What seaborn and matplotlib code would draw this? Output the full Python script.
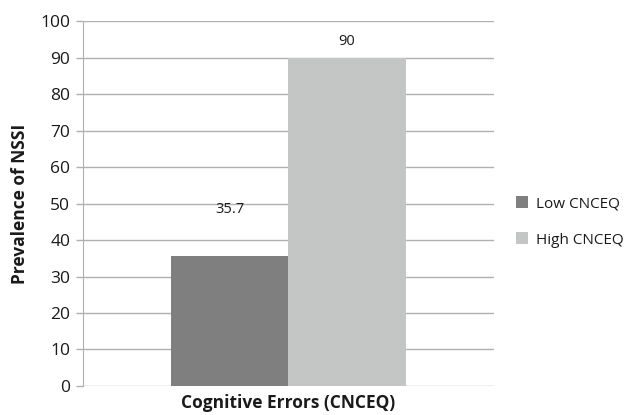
import pandas as pd
import matplotlib.pyplot as plt
import seaborn as sns

groups = ["Low CNCEQ", "High CNCEQ"]
prevalence = [35.7, 90]
category = ["Cognitive Errors (CNCEQ)", "Cognitive Errors (CNCEQ)"]
colors = ["#7f7f7f", "#c4c5c5"]

df = pd.DataFrame({"x": category, "group": groups, "value": prevalence})

sns.set_style("white")
plt.rcParams["font.family"] = ["Open Sans", "DejaVu Sans"]
plt.rcParams["text.color"] = "#1a1a1a"
plt.rcParams["ytick.color"] = "#1a1a1a"

fig = plt.figure(figsize=(6.27, 4.15), dpi=100)
ax = fig.add_axes([0.132, 0.070, 0.656, 0.879])

sns.barplot(data=df, x="x", y="value", hue="group", palette=colors,
            width=0.57, saturation=1, linewidth=0, ax=ax, legend=True)

ax.set_ylim(0, 100)
ax.set_xlim(-0.5, 0.5)
ax.set_yticks(range(0, 101, 10))
ax.tick_params(axis="y", labelsize=12.5, length=5, color="#b0b0b0", labelcolor="#1a1a1a",
               width=1, pad=4, left=True)
ax.tick_params(axis="x", bottom=False, labelbottom=False)
ax.yaxis.grid(True, color="#b0b0b0", linewidth=1)
ax.set_axisbelow(True)
for s in ["top", "right", "bottom"]:
    ax.spines[s].set_visible(False)
ax.spines["left"].set_color("#b0b0b0")

ax.set_ylabel("Prevalence of NSSI", fontsize=12.5, fontweight="bold", labelpad=8, color="#1a1a1a")
ax.set_xlabel("Cognitive Errors (CNCEQ)", fontsize=12.5, fontweight="bold", labelpad=6, color="#1a1a1a")

pads = [28, 6]
for cont, p in zip(ax.containers, pads):
    ax.bar_label(cont, labels=[f"{v:g}" for v in cont.datavalues], padding=p, fontsize=10.5)

ax.legend(loc="center left", bbox_to_anchor=(1.02, 0.45), frameon=False, fontsize=11,
          handlelength=0.8, handleheight=0.8, handletextpad=0.5, labelspacing=1.4)

fig.savefig("out.png", dpi=100)
